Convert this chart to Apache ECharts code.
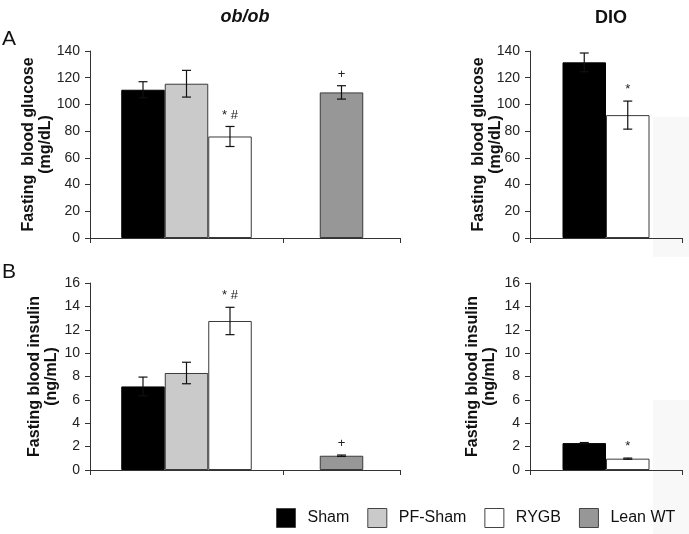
<!DOCTYPE html>
<html>
<head>
<meta charset="utf-8">
<script src="https://cdn.jsdelivr.net/npm/echarts@6/dist/echarts.min.js"></script>
<style>
html,body{margin:0;padding:0;background:#fff;}
#chart{width:689px;height:534px;}
</style>
</head>
<body>
<div id="chart"></div>
<script>
// ---- data ----
const groupsObob = ['Sham', 'PF-Sham', 'RYGB'];
const groupsLean = ['Lean WT'];
const groupsDio = ['Sham', 'RYGB'];

const glucoseObob = [111, 115.5, 76];
const glucoseObobErr = [6, 10, 7.5];
const glucoseObobMark = ['', '', '* #'];
const glucoseLean = [109];
const glucoseLeanErr = [5];
const glucoseLeanMark = ['+'];
const glucoseDio = [131.5, 92];
const glucoseDioErr = [7, 10.5];
const glucoseDioMark = ['', '*'];

const insulinObob = [7.15, 8.3, 12.75];
const insulinObobErr = [0.8, 0.92, 1.17];
const insulinObobMark = ['', '', '* #'];
const insulinLean = [1.22];
const insulinLeanErr = [0.06];
const insulinLeanMark = ['+'];
const insulinDio = [2.3, 0.97];
const insulinDioErr = [0.05, 0.05];
const insulinDioMark = ['', '*'];

const glucoseAxis = { min: 0, max: 140, interval: 20 };
const insulinAxis = { min: 0, max: 16, interval: 2 };

const legendNames = ['Sham', 'PF-Sham', 'RYGB', 'Lean WT'];
const panelTitles = ['ob/ob', 'DIO'];
const panelLetters = ['A', 'B'];
const glucoseName = 'Fasting  blood glucose\n(mg/dL)';
const insulinName = 'Fasting blood insulin\n(ng/mL)';

// ---- styles ----
const FONT = '"Liberation Sans", Arial, sans-serif';
const COLORS = { 'Sham': '#000000', 'PF-Sham': '#cacaca', 'RYGB': '#ffffff', 'Lean WT': '#979797' };
const AXIS_COLOR = '#333';
const BAR_W = 43.5;

const chart = echarts.init(document.getElementById('chart'), null, { renderer: 'canvas' });

const grids = [];
const xAxes = [];
const yAxes = [];
const series = [];

function addPanel(box, axisCfg, showY, yName, nameGap, names, values, errs, marks) {
  const idx = grids.length;
  grids.push({ left: box.left, top: box.top, width: box.width, height: box.height, containLabel: false });
  xAxes.push({
    type: 'category', gridIndex: idx, data: ['g'], boundaryGap: true,
    axisLine: { show: true, lineStyle: { color: AXIS_COLOR, width: 1 } },
    axisTick: { show: true, length: 5, inside: false, lineStyle: { color: AXIS_COLOR } },
    axisLabel: { show: false }, splitLine: { show: false }
  });
  yAxes.push({
    type: 'value', gridIndex: idx, min: axisCfg.min, max: axisCfg.max, interval: axisCfg.interval,
    show: showY,
    axisLine: { show: true, lineStyle: { color: AXIS_COLOR, width: 1 } },
    axisTick: { show: true, length: 5, inside: false, lineStyle: { color: AXIS_COLOR } },
    axisLabel: { show: true, color: '#222', fontSize: 14, fontFamily: FONT, margin: 10 },
    splitLine: { show: false },
    name: yName, nameLocation: 'middle', nameGap: nameGap, nameMoveOverlap: false,
    nameTextStyle: { fontSize: 16, fontWeight: 'bold', fontFamily: FONT, color: '#111', lineHeight: 17 }
  });
  const n = names.length;
  names.forEach((nm, k) => {
    series.push({
      type: 'bar', name: nm, xAxisIndex: idx, yAxisIndex: idx,
      data: [values[k]], barWidth: BAR_W, barGap: '0%',
      itemStyle: { color: COLORS[nm], borderColor: nm === 'Sham' ? '#000' : '#3a3a3a', borderWidth: 1 },
      emphasis: { disabled: true }, animation: false
    });
  });
  series.push({
    type: 'custom', xAxisIndex: idx, yAxisIndex: idx, z: 10, clip: false, silent: true, animation: false,
    data: values.map((v, k) => [0, v, errs[k], k]),
    renderItem: function (params, api) {
      const v = api.value(1), e = api.value(2), k = api.value(3);
      const base = api.coord([0, v]);
      const x = base[0] + (k - (n - 1) / 2) * BAR_W;
      const yTop = api.coord([0, v + e])[1];
      const yBot = api.coord([0, v - e])[1];
      const cap = 4.5;
      const ls = { stroke: '#111', lineWidth: 1.2 };
      const children = [
        { type: 'line', shape: { x1: x, y1: yTop, x2: x, y2: yBot }, style: ls },
        { type: 'line', shape: { x1: x - cap, y1: yTop, x2: x + cap, y2: yTop }, style: ls },
        { type: 'line', shape: { x1: x - cap, y1: yBot, x2: x + cap, y2: yBot }, style: ls }
      ];
      if (marks[k]) {
        children.push({
          type: 'text', x: x, y: yTop - 5,
          style: { text: marks[k], fill: '#222', fontSize: 13, fontFamily: FONT, align: 'center', verticalAlign: 'bottom' }
        });
      }
      return { type: 'group', children: children };
    }
  });
}

// top row (glucose)
addPanel({ left: 90, top: 51, width: 193, height: 187 }, glucoseAxis, true, glucoseName, 36,
  groupsObob, glucoseObob, glucoseObobErr, glucoseObobMark);
addPanel({ left: 283, top: 51, width: 117, height: 187 }, glucoseAxis, false, '', 0,
  groupsLean, glucoseLean, glucoseLeanErr, glucoseLeanMark);
addPanel({ left: 530, top: 51, width: 152, height: 187 }, glucoseAxis, true, glucoseName, 26,
  groupsDio, glucoseDio, glucoseDioErr, glucoseDioMark);
// bottom row (insulin)
addPanel({ left: 90, top: 283, width: 193, height: 187 }, insulinAxis, true, insulinName, 30,
  groupsObob, insulinObob, insulinObobErr, insulinObobMark);
addPanel({ left: 283, top: 283, width: 117, height: 187 }, insulinAxis, false, '', 0,
  groupsLean, insulinLean, insulinLeanErr, insulinLeanMark);
addPanel({ left: 530, top: 283, width: 152, height: 187 }, insulinAxis, true, insulinName, 32,
  groupsDio, insulinDio, insulinDioErr, insulinDioMark);

const option = {
  backgroundColor: '#ffffff',
  animation: false,
  grid: grids,
  xAxis: xAxes,
  yAxis: yAxes,
  series: series,
  legend: {
    data: legendNames, left: 276, top: 508, orient: 'horizontal', padding: 0,
    icon: 'rect', itemWidth: 19, itemHeight: 19, itemGap: 18, selectedMode: false,
    itemStyle: { borderColor: '#444', borderWidth: 1 },
    textStyle: { fontSize: 16, fontFamily: FONT, color: '#111', padding: [0, 0, 0, 7] }
  },
  graphic: [
    { type: 'rect', z: -10, silent: true, shape: { x: 653, y: 117, width: 36, height: 140 }, style: { fill: '#f8f8f8' } },
    { type: 'rect', z: -10, silent: true, shape: { x: 653, y: 400, width: 36, height: 134 }, style: { fill: '#f8f8f8' } },
    { type: 'text', x: 245, y: 17, style: { text: panelTitles[0], fontSize: 18, fontWeight: 'bold', fontStyle: 'italic', fontFamily: FONT, fill: '#111', align: 'center', verticalAlign: 'middle' } },
    { type: 'text', x: 611, y: 18, style: { text: panelTitles[1], fontSize: 18, fontWeight: 'bold', fontFamily: FONT, fill: '#111', align: 'center', verticalAlign: 'middle' } },
    { type: 'text', x: 2, y: 39, style: { text: panelLetters[0], fontSize: 21, fontFamily: FONT, fill: '#111', align: 'left', verticalAlign: 'middle' } },
    { type: 'text', x: 2, y: 272, style: { text: panelLetters[1], fontSize: 21, fontFamily: FONT, fill: '#111', align: 'left', verticalAlign: 'middle' } }
  ]
};
chart.setOption(option);
</script>
</body>
</html>
